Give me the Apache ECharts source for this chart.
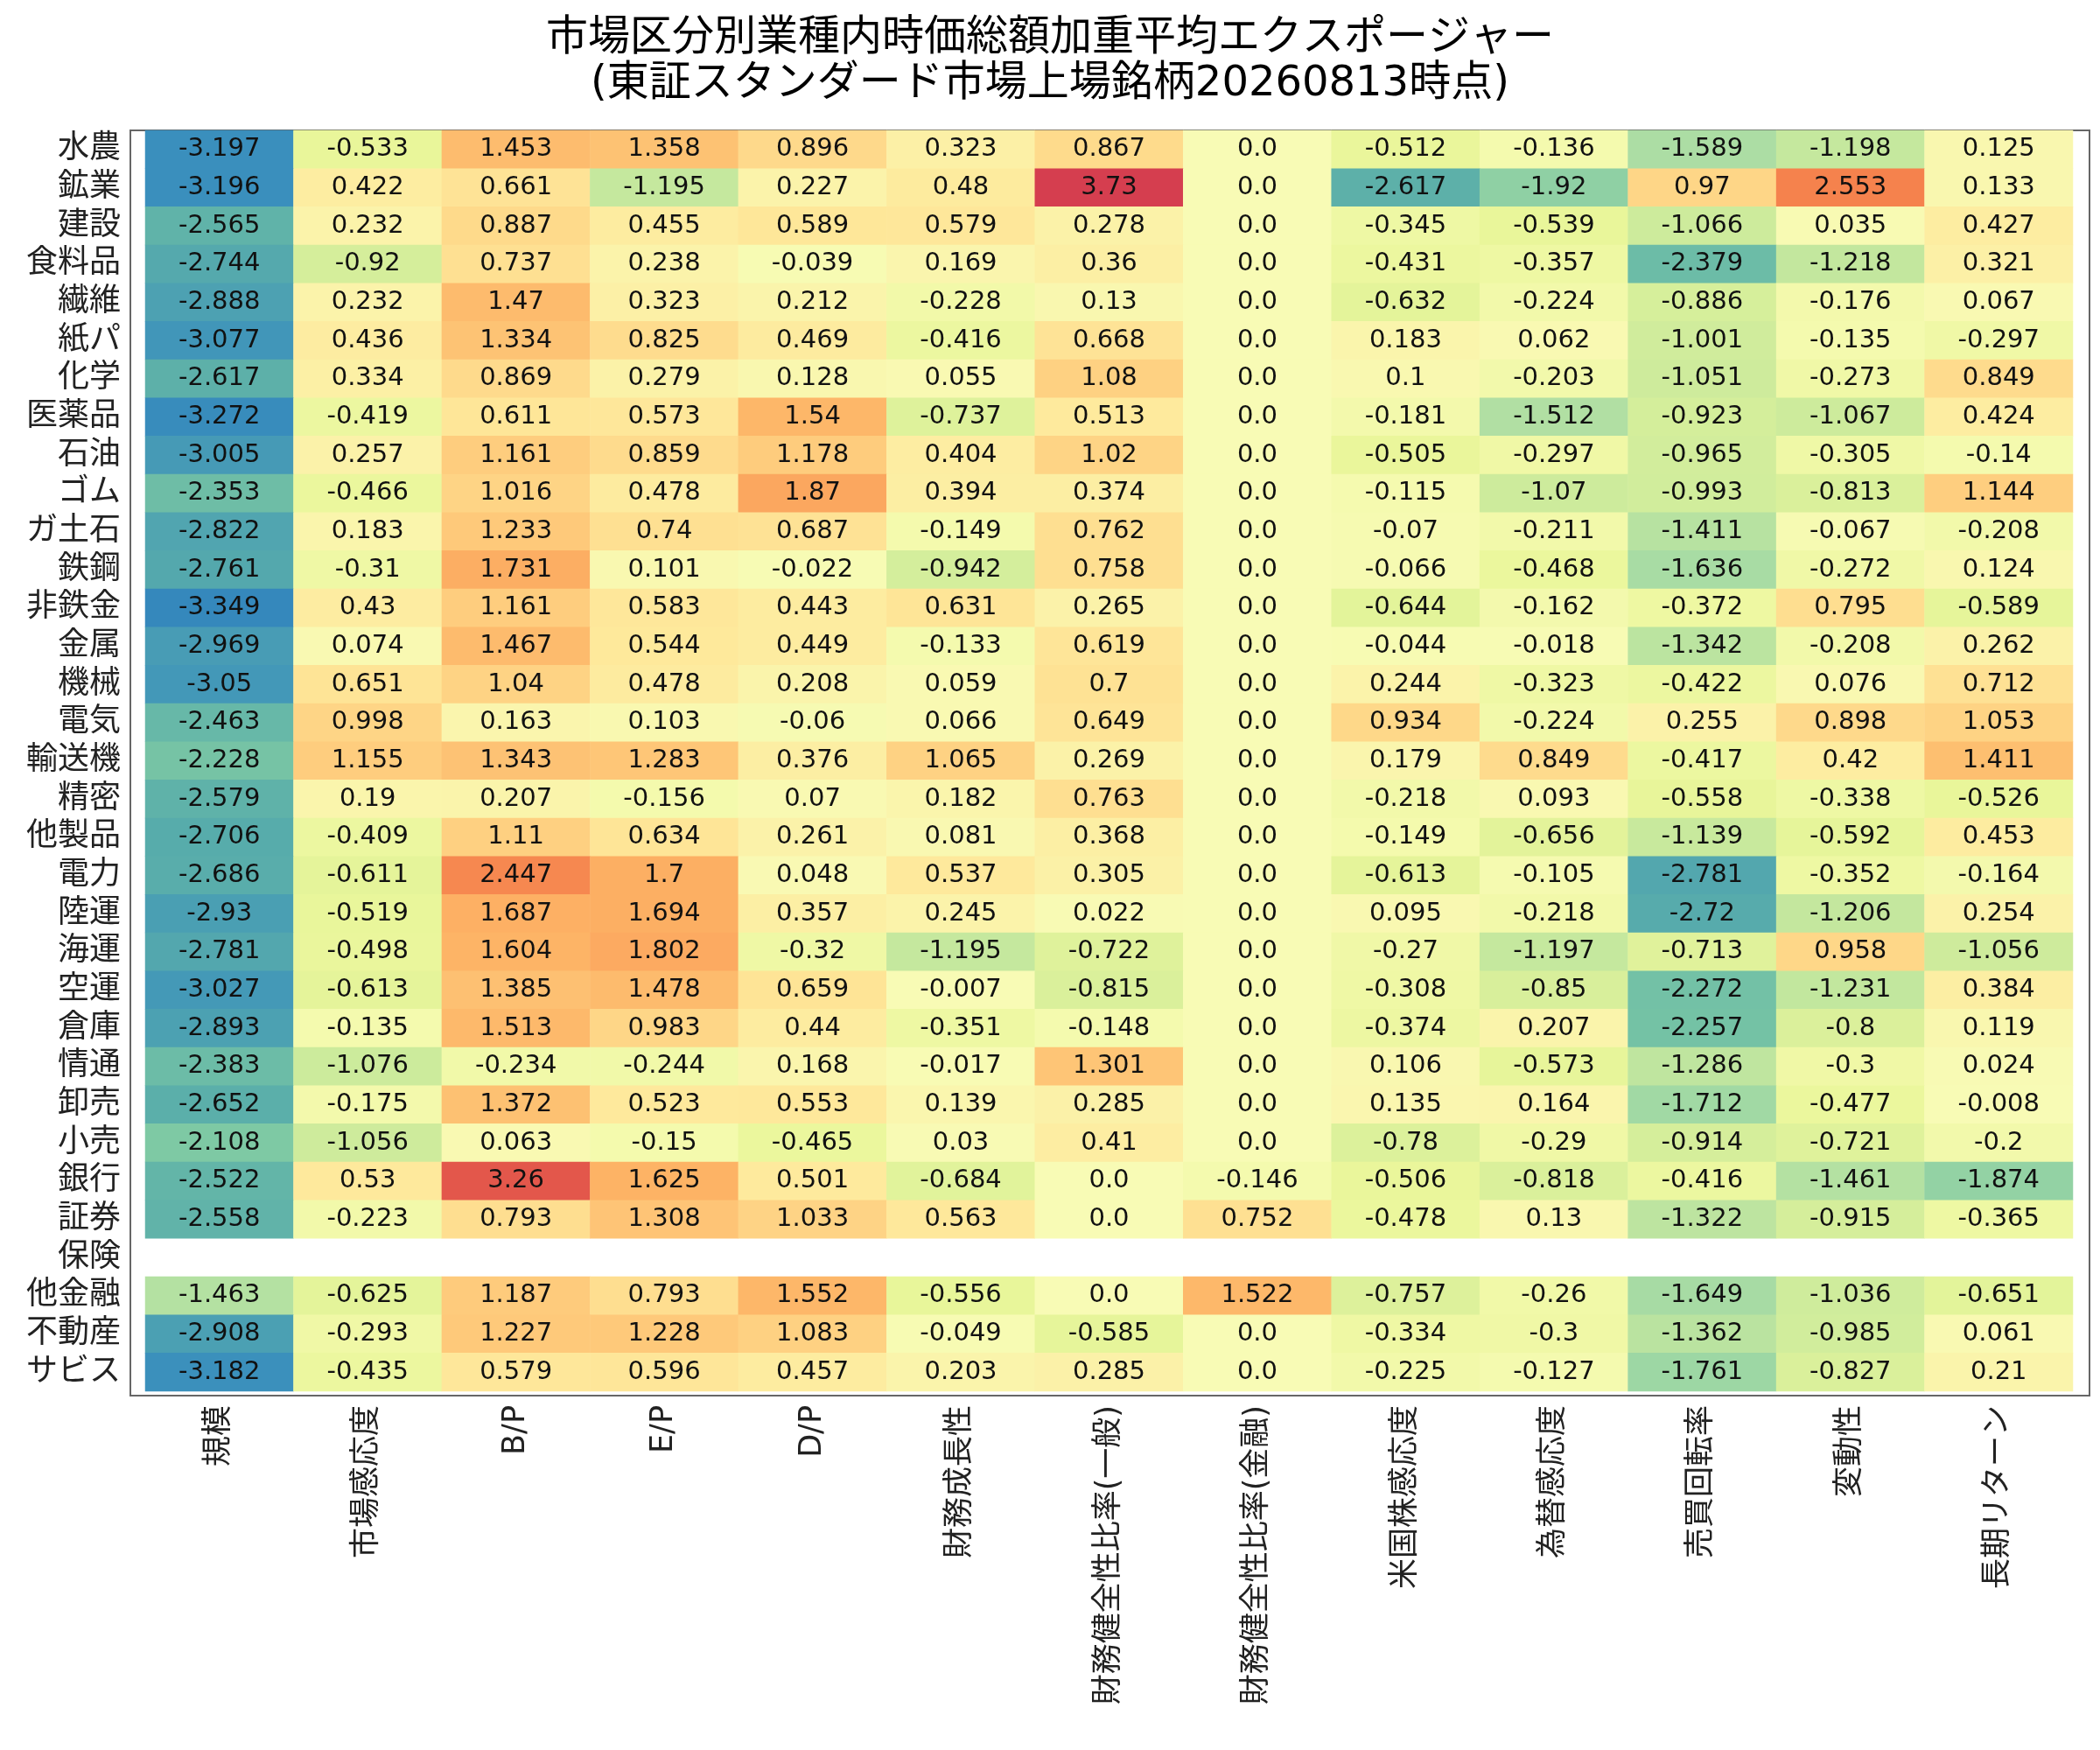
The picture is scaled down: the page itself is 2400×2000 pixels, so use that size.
<!DOCTYPE html>
<html>
<head>
<meta charset="utf-8">
<script src="https://cdn.jsdelivr.net/npm/echarts@6/dist/echarts.min.js"></script>
<style>html,body{margin:0;background:#fff}#chart{width:2400px;height:2000px}</style>
</head>
<body>
<div id="chart"></div>
<script>
const factors = ['規模', '市場感応度', 'B/P', 'E/P', 'D/P', '財務成長性', '財務健全性比率(一般)', '財務健全性比率(金融)', '米国株感応度', '為替感応度', '売買回転率', '変動性', '長期リターン']
const industries = ['水農', '鉱業', '建設', '食料品', '繊維', '紙パ', '化学', '医薬品', '石油', 'ゴム', 'ガ土石', '鉄鋼', '非鉄金', '金属', '機械', '電気', '輸送機', '精密', '他製品', '電力', '陸運', '海運', '空運', '倉庫', '情通', '卸売', '小売', '銀行', '証券', '保険', '他金融', '不動産', 'サビス']

// one row per industry, null = no data
const rowValues = [
  [-3.197, -0.533, 1.453, 1.358, 0.896, 0.323, 0.867, 0.0, -0.512, -0.136, -1.589, -1.198, 0.125],
  [-3.196, 0.422, 0.661, -1.195, 0.227, 0.48, 3.73, 0.0, -2.617, -1.92, 0.97, 2.553, 0.133],
  [-2.565, 0.232, 0.887, 0.455, 0.589, 0.579, 0.278, 0.0, -0.345, -0.539, -1.066, 0.035, 0.427],
  [-2.744, -0.92, 0.737, 0.238, -0.039, 0.169, 0.36, 0.0, -0.431, -0.357, -2.379, -1.218, 0.321],
  [-2.888, 0.232, 1.47, 0.323, 0.212, -0.228, 0.13, 0.0, -0.632, -0.224, -0.886, -0.176, 0.067],
  [-3.077, 0.436, 1.334, 0.825, 0.469, -0.416, 0.668, 0.0, 0.183, 0.062, -1.001, -0.135, -0.297],
  [-2.617, 0.334, 0.869, 0.279, 0.128, 0.055, 1.08, 0.0, 0.1, -0.203, -1.051, -0.273, 0.849],
  [-3.272, -0.419, 0.611, 0.573, 1.54, -0.737, 0.513, 0.0, -0.181, -1.512, -0.923, -1.067, 0.424],
  [-3.005, 0.257, 1.161, 0.859, 1.178, 0.404, 1.02, 0.0, -0.505, -0.297, -0.965, -0.305, -0.14],
  [-2.353, -0.466, 1.016, 0.478, 1.87, 0.394, 0.374, 0.0, -0.115, -1.07, -0.993, -0.813, 1.144],
  [-2.822, 0.183, 1.233, 0.74, 0.687, -0.149, 0.762, 0.0, -0.07, -0.211, -1.411, -0.067, -0.208],
  [-2.761, -0.31, 1.731, 0.101, -0.022, -0.942, 0.758, 0.0, -0.066, -0.468, -1.636, -0.272, 0.124],
  [-3.349, 0.43, 1.161, 0.583, 0.443, 0.631, 0.265, 0.0, -0.644, -0.162, -0.372, 0.795, -0.589],
  [-2.969, 0.074, 1.467, 0.544, 0.449, -0.133, 0.619, 0.0, -0.044, -0.018, -1.342, -0.208, 0.262],
  [-3.05, 0.651, 1.04, 0.478, 0.208, 0.059, 0.7, 0.0, 0.244, -0.323, -0.422, 0.076, 0.712],
  [-2.463, 0.998, 0.163, 0.103, -0.06, 0.066, 0.649, 0.0, 0.934, -0.224, 0.255, 0.898, 1.053],
  [-2.228, 1.155, 1.343, 1.283, 0.376, 1.065, 0.269, 0.0, 0.179, 0.849, -0.417, 0.42, 1.411],
  [-2.579, 0.19, 0.207, -0.156, 0.07, 0.182, 0.763, 0.0, -0.218, 0.093, -0.558, -0.338, -0.526],
  [-2.706, -0.409, 1.11, 0.634, 0.261, 0.081, 0.368, 0.0, -0.149, -0.656, -1.139, -0.592, 0.453],
  [-2.686, -0.611, 2.447, 1.7, 0.048, 0.537, 0.305, 0.0, -0.613, -0.105, -2.781, -0.352, -0.164],
  [-2.93, -0.519, 1.687, 1.694, 0.357, 0.245, 0.022, 0.0, 0.095, -0.218, -2.72, -1.206, 0.254],
  [-2.781, -0.498, 1.604, 1.802, -0.32, -1.195, -0.722, 0.0, -0.27, -1.197, -0.713, 0.958, -1.056],
  [-3.027, -0.613, 1.385, 1.478, 0.659, -0.007, -0.815, 0.0, -0.308, -0.85, -2.272, -1.231, 0.384],
  [-2.893, -0.135, 1.513, 0.983, 0.44, -0.351, -0.148, 0.0, -0.374, 0.207, -2.257, -0.8, 0.119],
  [-2.383, -1.076, -0.234, -0.244, 0.168, -0.017, 1.301, 0.0, 0.106, -0.573, -1.286, -0.3, 0.024],
  [-2.652, -0.175, 1.372, 0.523, 0.553, 0.139, 0.285, 0.0, 0.135, 0.164, -1.712, -0.477, -0.008],
  [-2.108, -1.056, 0.063, -0.15, -0.465, 0.03, 0.41, 0.0, -0.78, -0.29, -0.914, -0.721, -0.2],
  [-2.522, 0.53, 3.26, 1.625, 0.501, -0.684, 0.0, -0.146, -0.506, -0.818, -0.416, -1.461, -1.874],
  [-2.558, -0.223, 0.793, 1.308, 1.033, 0.563, 0.0, 0.752, -0.478, 0.13, -1.322, -0.915, -0.365],
  null,
  [-1.463, -0.625, 1.187, 0.793, 1.552, -0.556, 0.0, 1.522, -0.757, -0.26, -1.649, -1.036, -0.651],
  [-2.908, -0.293, 1.227, 1.228, 1.083, -0.049, -0.585, 0.0, -0.334, -0.3, -1.362, -0.985, 0.061],
  [-3.182, -0.435, 0.579, 0.596, 0.457, 0.203, 0.285, 0.0, -0.225, -0.127, -1.761, -0.827, 0.21]
]

const cells = []
rowValues.forEach((row, r) => {
  if (!row) return
  row.forEach((v, c) => cells.push([c, r, v]))
})

// python-style number text
const fmt = v => Number.isInteger(v) ? v.toFixed(1) : String(v)

// colour ramp, evenly spread over -3.73 .. 3.73
const palette = ['#2a78b8', '#3a8fbd', '#5aaeaa', '#7cc8a4', '#abdda4', '#cdeb9c', '#e9f69a', '#f8fbb5',
  '#fee99c', '#fed283', '#fdb466', '#fa9a58', '#f47c4a', '#e55a4a', '#d53e4f']

const font = '"DejaVu Sans", "Noto Sans CJK JP", sans-serif'
const chart = echarts.init(document.getElementById('chart'))
chart.setOption({
  backgroundColor: '#fff',
  animation: false,
  title: {
    text: '市場区分別業種内時価総額加重平均エクスポージャー\n(東証スタンダード市場上場銘柄20260813時点)',
    left: 'center', top: 14,
    textStyle: { fontFamily: font, fontSize: 48, fontWeight: 'normal', color: '#000', lineHeight: 52 }
  },
  grid: { left: 166, right: 31, top: 149, bottom: 410 },
  xAxis: {
    type: 'category', data: factors, position: 'bottom',
    axisLine: { show: false }, axisTick: { show: false }, splitLine: { show: false },
    axisLabel: { rotate: 90, fontFamily: font, fontSize: 35, color: '#222', margin: 16, interval: 0 }
  },
  yAxis: {
    type: 'category', data: industries, inverse: true,
    axisLine: { show: false }, axisTick: { show: false }, splitLine: { show: false },
    axisLabel: { fontFamily: font, fontSize: 36, color: '#222', margin: 28, interval: 0 }
  },
  visualMap: {
    show: false, min: -3.73, max: 3.73, dimension: 2,
    inRange: { color: palette }
  },
  series: [{
    type: 'heatmap', data: cells,
    label: { show: true, formatter: p => fmt(p.value[2]), fontFamily: font, fontSize: 29, color: '#111' },
    itemStyle: { borderWidth: 0 }
  }],
  graphic: [{
    type: 'rect', shape: { x: 149, y: 149, width: 2239, height: 1446 },
    style: { fill: 'none', stroke: '#666', lineWidth: 2 }
  }]
})
</script>
</body>
</html>
